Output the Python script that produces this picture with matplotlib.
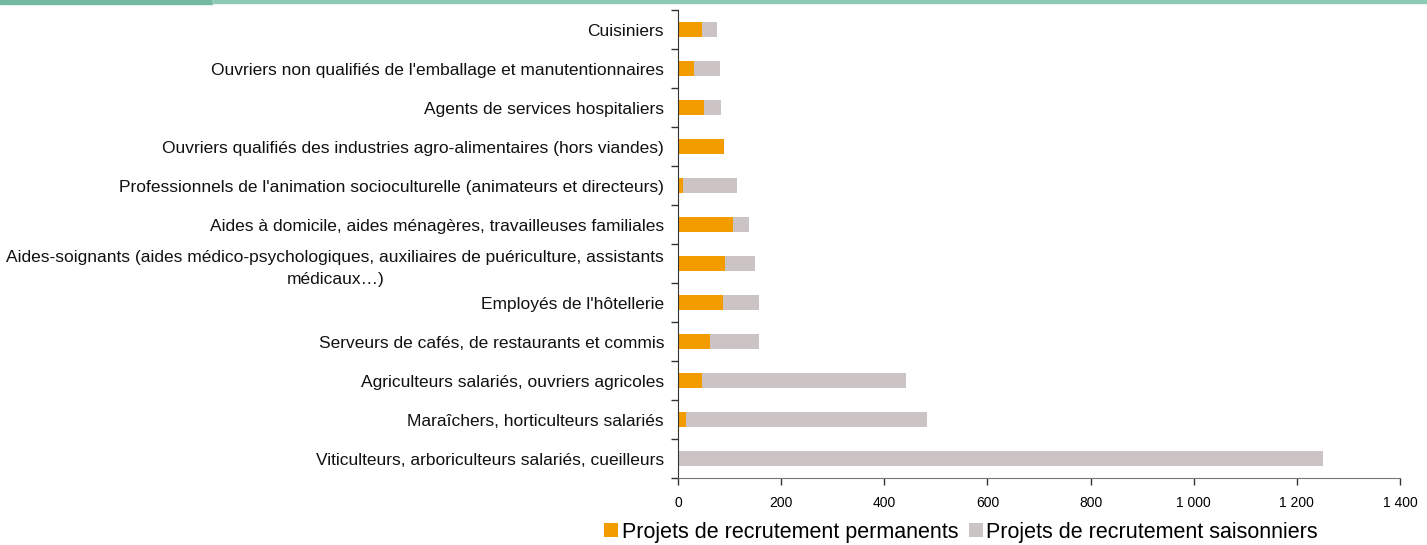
import numpy as np
import matplotlib.pyplot as plt
from matplotlib.patches import Rectangle
from matplotlib.ticker import FuncFormatter

plt.rcParams['font.family'] = ['Liberation Sans', 'DejaVu Sans']

metiers = [
    "Cuisiniers",
    "Ouvriers non qualifiés de l'emballage et manutentionnaires",
    "Agents de services hospitaliers",
    "Ouvriers qualifiés des industries agro-alimentaires (hors viandes)",
    "Professionnels de l'animation socioculturelle (animateurs et directeurs)",
    "Aides à domicile, aides ménagères, travailleuses familiales",
    "Aides-soignants (aides médico-psychologiques, auxiliaires de puériculture, assistants\nmédicaux…)",
    "Employés de l'hôtellerie",
    "Serveurs de cafés, de restaurants et commis",
    "Agriculteurs salariés, ouvriers agricoles",
    "Maraîchers, horticulteurs salariés",
    "Viticulteurs, arboriculteurs salariés, cueilleurs",
]
permanents = [46, 31, 50, 89, 10, 106, 92, 87, 62, 46, 15, 0]
saisonniers = [29, 50, 33, 0, 104, 31, 57, 70, 95, 396, 468, 1250]

col_perm = "#F39C00"
col_sais = "#CCC4C4"


def main():
    fig = plt.figure(figsize=(14.27, 5.45), dpi=100)
    ax = fig.add_axes([678 / 1427, 1 - 478 / 545, (1400 - 678) / 1427, 468 / 545])

    y = np.arange(len(metiers))
    perm = np.array(permanents)
    sais = np.array(saisonniers)
    ax.barh(y, perm, height=0.41, color=col_perm, label="Projets de recrutement permanents")
    ax.barh(y, sais, left=perm, height=0.41, color=col_sais, label="Projets de recrutement saisonniers")

    ax.set_ylim(len(metiers) - 0.5, -0.5)
    ax.set_xlim(0, 1400)
    ax.set_xticks(np.arange(0, 1401, 200))
    ax.xaxis.set_major_formatter(FuncFormatter(lambda v, p: f"{int(v):,}".replace(",", " ")))

    # labels centred on bars, ticks between categories (Excel style)
    ax.set_yticks(y)
    ax.set_yticklabels(metiers, fontsize=12.5)
    for lab in ax.get_yticklabels():
        lab.set_multialignment("center")
        lab.set_linespacing(1.55)
    ax.tick_params(axis="y", which="major", length=0, pad=10, labelcolor="#111111")
    ax.set_yticks(np.arange(-0.5, len(metiers)), minor=True)
    ax.tick_params(axis="y", which="minor", length=5, width=1, color="#333333")
    ax.tick_params(axis="x", length=5, width=1, color="#333333", labelsize=10, pad=8)

    for s in ["top", "right"]:
        ax.spines[s].set_visible(False)
    ax.spines["left"].set_color("#333333")
    ax.spines["bottom"].set_color("#777777")

    fig.legend(loc="lower center", bbox_to_anchor=(961 / 1427, -0.031), ncol=2, frameon=False,
               fontsize=15.5, handlelength=0.65, handleheight=0.65, handletextpad=0.15,
               columnspacing=0.5)

    # green band at the top of the page
    fig.patches.append(Rectangle((0, 1 - 4 / 545), 212 / 1427, 4 / 545, transform=fig.transFigure,
                                 color="#74B8A2", zorder=5))
    fig.patches.append(Rectangle((212 / 1427, 1 - 3 / 545), 1 - 212 / 1427, 3 / 545,
                                 transform=fig.transFigure, color="#8FCAB6", zorder=5))

    fig.savefig("out.png", dpi=100)


if __name__ == "__main__":
    main()
